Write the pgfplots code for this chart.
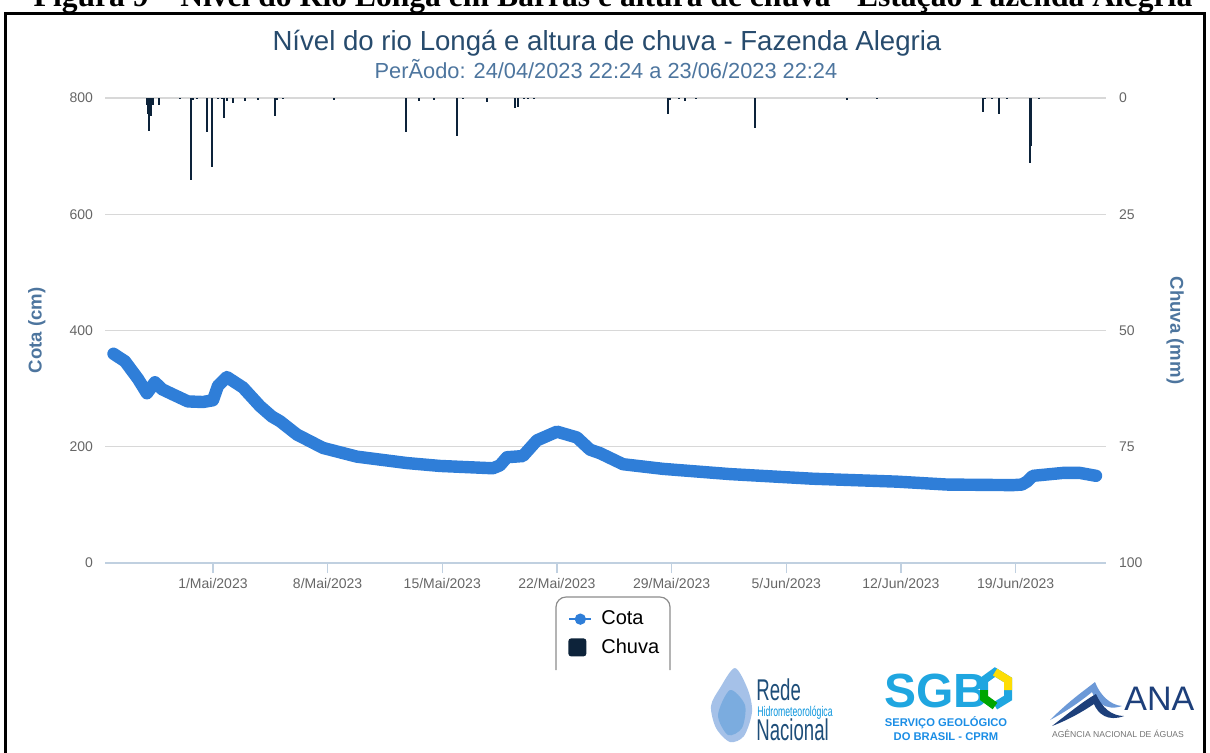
\documentclass[border=0pt]{standalone}
\usepackage{pgfplots}
\pgfplotsset{compat=1.18}
\usepackage{fontspec}
\setmainfont{Liberation Sans}
\newfontfamily\serifb{Liberation Serif}
\newfontfamily\cond{Liberation Sans}[FakeStretch=0.62]
\definecolor{cota}{HTML}{2F7ED8}
\definecolor{chuva}{HTML}{0D233A}
\definecolor{ttl}{HTML}{274B6D}
\definecolor{subc}{HTML}{4D759E}
\definecolor{tickc}{HTML}{666666}
\definecolor{gridc}{HTML}{D8D8D8}
\definecolor{axl}{HTML}{C0D0E0}
\definecolor{sgbblue}{HTML}{1FA6E0}
\definecolor{anablue}{HTML}{1D3F7A}
\definecolor{redeblue}{HTML}{1E4E79}
\pgfplotsset{/pgf/number format/assume math mode=true}
\begin{document}
\begin{tikzpicture}
\useasboundingbox (0,0) rectangle (605pt,-376pt);
\clip (0,0) rectangle (605pt,-376pt);
\begin{scope}[x=0.5pt,y=-0.5pt]
  % document caption (cut at the top) and frame
  \node[anchor=base, inner sep=0pt, font=\serifb\bfseries\fontsize{15.8}{17}\selectfont] at (613,6) {Figura 9 – Nível do Rio Longá em Barras e altura de chuva - Estação Fazenda Alegria};
  \draw[line width=1.5pt] (5.5,770) -- (5.5,13) -- (1204.5,13) -- (1204.5,770);
  % titles
  \node[font=\fontsize{13.8}{16}\selectfont, text=ttl] at (607,43) {Nível do rio Longá e altura de chuva - Fazenda Alegria};
  \node[font=\fontsize{10.9}{12}\selectfont, text=subc] at (606,69) {PerÃodo: 24/04/2023 22:24 a 23/06/2023 22:24};
  % legend frame (cut at the bottom)
  \draw[color=black!45, line width=0.6pt, rounded corners=5pt] (556,670) -- (556,597) -- (670,597) -- (670,670);
  % logo: Rede Hidrometeorologica Nacional
  \fill[cyan!55!blue!45, opacity=0.8] plot[smooth cycle] coordinates {(735,668) (748,690) (752,712) (744,736) (730,742) (716,728) (711,706) (720,688)};
  \fill[cyan!60!blue!70, opacity=0.5] plot[smooth cycle] coordinates {(730,690) (745,705) (742,728) (728,735) (718,715)};
  \node[anchor=base west, inner sep=0pt, font=\cond\fontsize{15}{16}\selectfont, text=redeblue] at (756,700) {Rede};
  \node[anchor=base west, inner sep=0pt, font=\cond\fontsize{7}{8}\selectfont, text=cyan!80!blue] at (757,716) {Hidrometeorológica};
  \node[anchor=base west, inner sep=0pt, font=\cond\fontsize{15}{16}\selectfont, text=redeblue] at (756,740) {Nacional};
  % logo: SGB
  \node[anchor=base west, inner sep=0pt, font=\bfseries\fontsize{24}{26}\selectfont, text=sgbblue] at (884,707) {SGB};
  \draw[line width=4pt, color=sgbblue] (984,690) -- (984,680) -- (995,672) -- (1008,680) -- (1008,698) -- (995,706);
  \draw[line width=4pt, color=yellow!80!orange] (995,672) -- (1008,680) -- (1008,690);
  \draw[line width=4pt, color=green!65!black] (984,690) -- (984,698) -- (995,706);
  \node[anchor=base, inner sep=0pt, font=\bfseries\fontsize{5.6}{6}\selectfont, text=sgbblue!85!blue] at (946,726) {SERVIÇO GEOLÓGICO};
  \node[anchor=base, inner sep=0pt, font=\bfseries\fontsize{5.6}{6}\selectfont, text=sgbblue!85!blue] at (946,740) {DO BRASIL - CPRM};
  % logo: ANA
  \fill[cyan!50!blue!60] (1050,720) .. controls (1070,700) and (1085,690) .. (1095,682) .. controls (1100,695) and (1110,705) .. (1122,706) .. controls (1105,712) and (1095,700) .. (1092,692) .. controls (1080,702) and (1065,712) .. (1050,720) -- cycle;
  \fill[anablue] (1052,726) .. controls (1070,712) and (1085,700) .. (1096,694) .. controls (1102,708) and (1112,716) .. (1124,716) .. controls (1108,722) and (1098,714) .. (1094,704) .. controls (1082,712) and (1068,720) .. (1052,726) -- cycle;
  \node[anchor=base west, inner sep=0pt, font=\fontsize{17}{18}\selectfont, text=anablue] at (1124,710) {ANA};
  \node[anchor=base, inner sep=0pt, font=\fontsize{4.3}{5}\selectfont, text=black!55] at (1118,737) {AGÊNCIA NACIONAL DE ÁGUAS};
\end{scope}

% ---------- left axis: Cota ----------
\begin{axis}[
  at={(52.5pt,-281.5pt)}, anchor=south west,
  scale only axis, width=500.5pt, height=232.5pt,
  xmin=-6.59, xmax=54.52, ymin=0, ymax=800,
  axis x line*=bottom, axis y line*=left,
  x axis line style={draw=axl, line width=0.6pt, -},
  y axis line style={draw=none},
  xtick={0,7,14,21,28,35,42,49},
  xticklabels={1/Mai/2023,8/Mai/2023,15/Mai/2023,22/Mai/2023,29/Mai/2023,5/Jun/2023,12/Jun/2023,19/Jun/2023},
  ytick={0,200,400,600,800},
  ymajorgrids, major grid style={draw=gridc, line width=0.6pt},
  tick align=outside, major tick length=5pt,
  xtick style={draw=axl, line width=0.6pt},
  ytick style={draw=none},
  ticklabel style={font=\fontsize{7}{8}\selectfont, text=tickc},
  xticklabel style={yshift=1pt},
  yticklabel style={xshift=2.5pt},
  ylabel={Cota (cm)},
  every axis y label/.style={at={(axis description cs:-0.068,0.5)}, rotate=90, anchor=center,
    font=\bfseries\fontsize{9.3}{10}\selectfont, text=subc},
]
\addplot[cota, line width=6.2pt, line cap=round, line join=round] coordinates {
(-6.07,360) (-5.37,347) (-4.58,317) (-4.03,292) (-3.54,311) (-3.11,299) (-2.44,290) (-1.53,278) (-0.61,277) (0,280) (0.31,305) (0.85,320) (1.83,302) (2.87,270) (3.60,252) (4.09,244) (5.13,221) (6.72,198) (8.79,183) (11.84,172) (13.86,167) (17.09,163) (17.52,168) (17.95,182) (18.92,184) (19.78,211) (21.00,226) (22.22,216) (23.02,195) (23.63,189) (25.03,170) (27.47,162) (31.56,153) (36.63,145) (41.76,140) (44.81,135) (48.84,134) (49.39,135) (49.69,140) (50.06,150) (51.89,155) (52.93,155) (53.91,150)
};
\end{axis}

% ---------- right axis: Chuva ----------
\begin{axis}[
  at={(52.5pt,-281.5pt)}, anchor=south west,
  scale only axis, width=500.5pt, height=232.5pt,
  xmin=-6.59, xmax=54.52, ymin=0, ymax=100, y dir=reverse,
  axis x line=none, axis y line*=right,
  y axis line style={draw=none},
  ytick={0,25,50,75,100},
  ytick style={draw=none},
  ticklabel style={font=\fontsize{7}{8}\selectfont, text=tickc},
  yticklabel style={xshift=3pt},
  ylabel={Chuva (mm)},
  every axis y label/.style={at={(axis description cs:1.069,0.5)}, rotate=-90, anchor=center,
    font=\bfseries\fontsize{9.3}{10}\selectfont, text=subc},
  legend style={at={(axis description cs:0.4625,-0.093)}, anchor=north west, draw=none, fill=none,
    font=\fontsize{10}{12}\selectfont, row sep=1.5pt, inner sep=0pt,
    /tikz/every odd column/.append style={column sep=2.5pt}},
  legend cell align=left,
]
\addlegendimage{cota, line width=1pt, legend image code/.code={\draw[cota, line width=1pt] (0pt,0pt) -- (11pt,0pt); \fill[cota] (5.5pt,0pt) circle (2.3pt);}}
\addlegendentry{Cota}
\addplot[ycomb, draw=chuva, line width=1pt, legend image code/.code={\fill[chuva, rounded corners=1pt] (0pt,-4pt) rectangle (8pt,4pt);}] coordinates {
(-4.05,1.6) (-3.94,3.4) (-3.88,7.0) (-3.79,3.8) (-3.67,1.5) (-3.30,1.4) (-2.02,0.3) (-1.36,17.6) (-1.20,0.5) (-0.96,0.3) (-0.38,7.4) (-0.08,14.9) (0.31,0.3) (0.53,0.3) (0.69,4.2) (0.86,0.6) (1.20,1.0) (1.95,0.7) (2.77,0.5) (3.79,3.9) (3.91,0.4) (4.29,0.3) (7.41,0.4) (11.77,7.4) (12.60,0.7) (13.52,0.4) (14.89,8.1) (15.25,0.3) (16.72,0.9) (18.45,2.2) (18.65,2.0) (18.96,0.3) (19.26,0.3) (19.57,0.3) (27.76,3.5) (27.89,0.4) (28.44,0.3) (28.81,0.6) (29.51,0.3) (33.08,6.5) (38.73,0.5) (40.56,0.3) (46.98,3.1) (47.14,0.3) (47.57,0.3) (47.97,3.5) (48.50,0.3) (49.85,14.0) (49.97,10.3) (50.40,0.3)
};
\addlegendentry{Chuva}
\end{axis}
\end{tikzpicture}
\end{document}
